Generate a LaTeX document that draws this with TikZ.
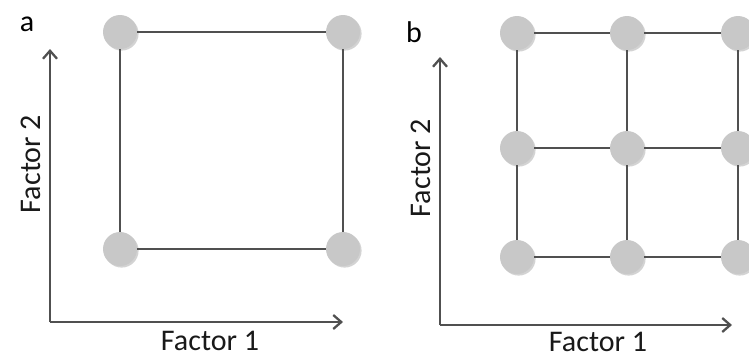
\documentclass[tikz,border=0pt]{standalone}
\usepackage{fontspec}
\setmainfont{Carlito}
\usetikzlibrary{positioning, arrows.meta, shadows}
\definecolor{dotgrey}{HTML}{C8C8C8}
\definecolor{linegrey}{HTML}{505050}

\begin{document}
\begin{tikzpicture}[
        x=1pt, y=-1pt,
        dot/.style={circle, fill=dotgrey, minimum size=34pt, inner sep=0pt,
            drop shadow={shadow xshift=1.6pt, shadow yshift=-1.6pt,
                opacity=0.35, fill=gray}},
        link/.style={draw=linegrey, line width=2.8pt},
        axis/.style={draw=linegrey, line width=2.3pt,
            -{Straight Barb[length=8pt, width=14pt]}},
        axlabel/.style={font=\fontsize{30}{32}\selectfont, text=black!90},
        tag/.style={font=\fontsize{30}{32}\selectfont},
        ]
        \useasboundingbox (0,0) rectangle (749,360);

        % Panel a: two-level design
        \node[tag] (taga) at (27,24) {a};
        \coordinate (oa) at (50,322);
        \coordinate (ya) at (50,49);
        \coordinate (xa) at (343,322);
        \draw[axis] (oa) -- (ya);
        \draw[axis] (oa) -- (xa);
        \node[axlabel] (fa1) at (210,341) {Factor 1};
        \node[axlabel, rotate=90] (fa2) at (31,164) {Factor 2};

        \node[dot] (a-1-1) at (120,32) {};
        \node[dot] (a-2-1) at (343,32) {};
        \node[dot] (a-1-2) at (120,249) {};
        \node[dot] (a-2-2) at (343,249) {};
        \draw[link] (a-1-1) -- (a-2-1);
        \draw[link] (a-1-2) -- (a-2-2);
        \draw[link] (a-1-1) -- (a-1-2);
        \draw[link] (a-2-1) -- (a-2-2);

        % Panel b: three-level design
        \node[tag] (tagb) at (414,32) {b};
        \coordinate (ob) at (440,325);
        \coordinate (yb) at (440,57);
        \coordinate (xb) at (732,325);
        \draw[axis] (ob) -- (yb);
        \draw[axis] (ob) -- (xb);
        \node[axlabel] (fb1) at (598,342) {Factor 1};
        \node[axlabel, rotate=90] (fb2) at (421,168) {Factor 2};

        \foreach \i/\x in {1/517, 2/627, 3/738}
            \foreach \j/\y in {1/33, 2/148, 3/257}
                \node[dot] (b-\i-\j) at (\x,\y) {};
        \foreach \i in {1,2,3} {
            \draw[link] (b-1-\i) -- (b-2-\i);
            \draw[link] (b-2-\i) -- (b-3-\i);
            \draw[link] (b-\i-1) -- (b-\i-2);
            \draw[link] (b-\i-2) -- (b-\i-3);
        }
    \end{tikzpicture}
\end{document}
